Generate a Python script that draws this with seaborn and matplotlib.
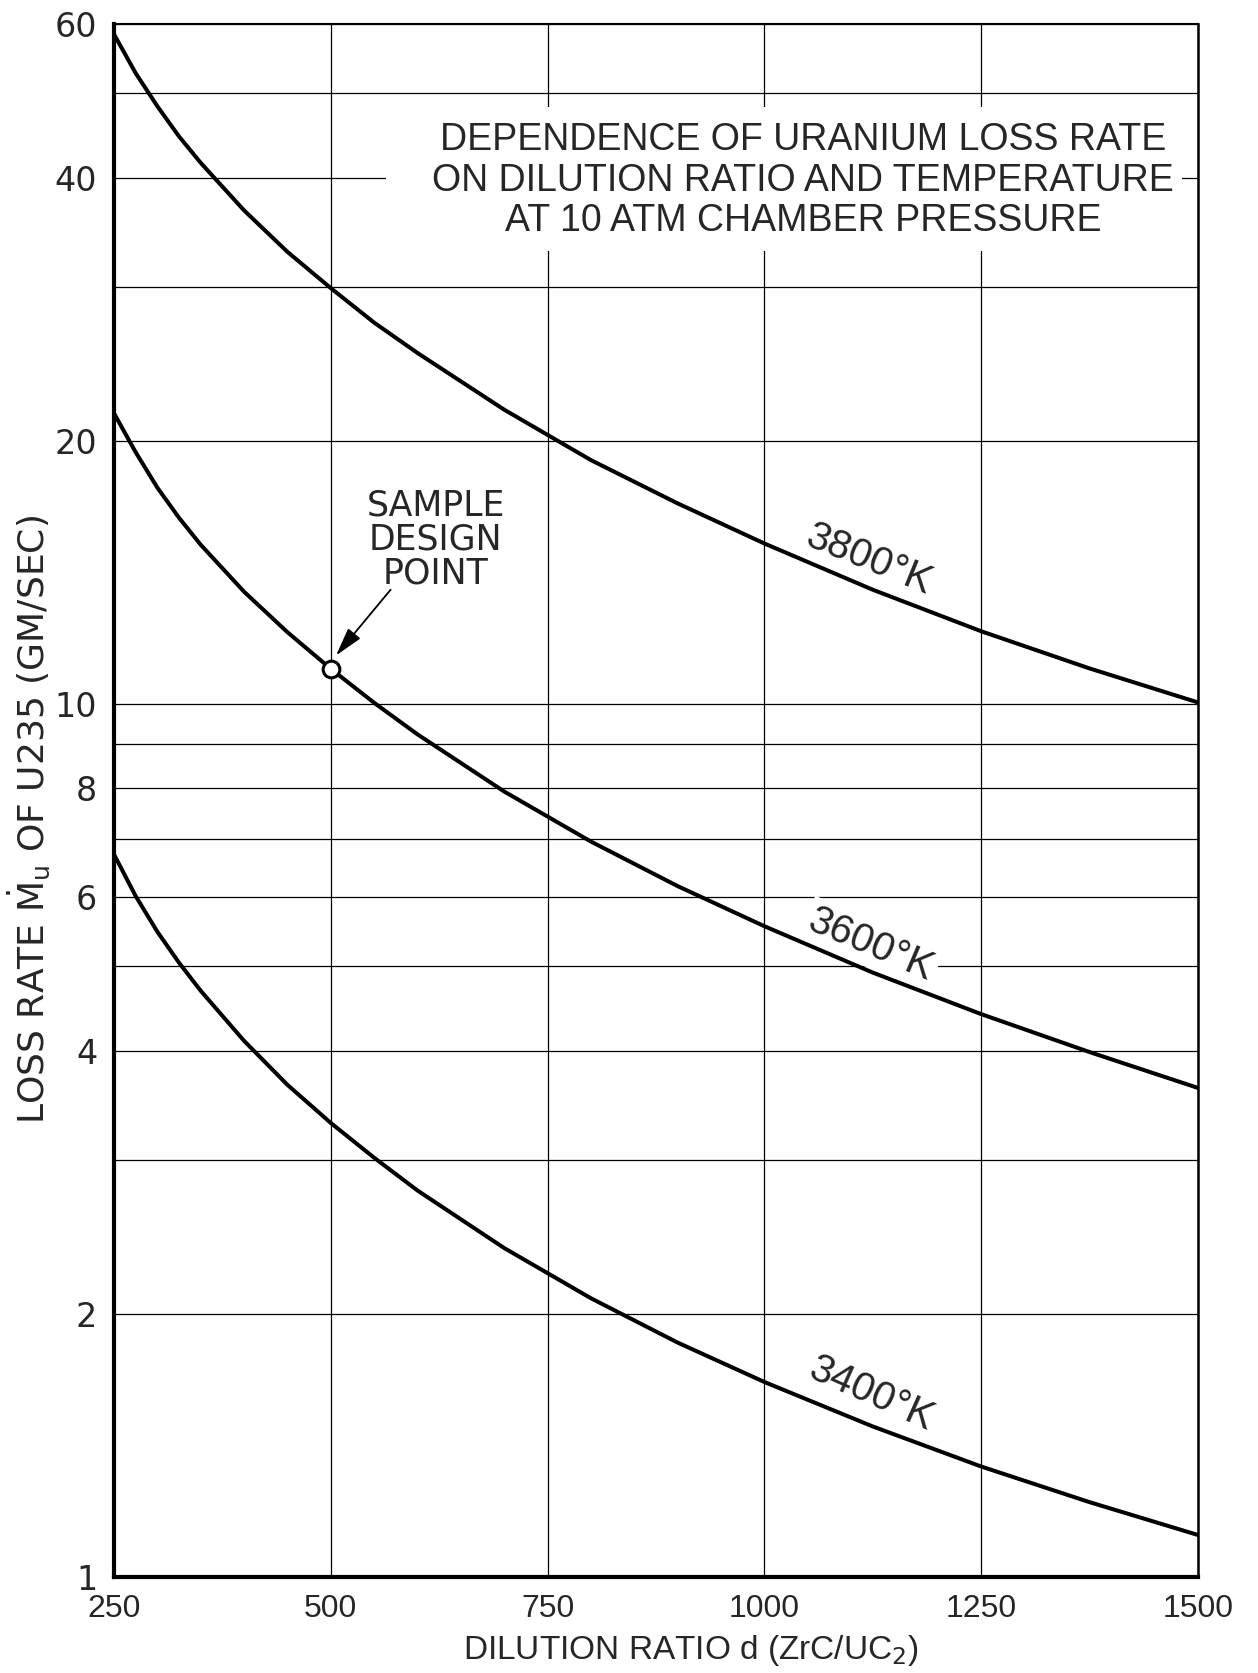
import numpy as np
import pandas as pd
import matplotlib
matplotlib.use('Agg')
import matplotlib.pyplot as plt
import matplotlib.patches as mpatches
import seaborn as sns
from matplotlib.ticker import FixedLocator, NullFormatter, FixedFormatter

# ---- data ----
dilution = [250, 275, 300, 325, 350, 400, 450, 500, 550, 600, 700, 800, 900, 1000, 1125, 1250, 1375, 1500]
rate_3800 = [58.4, 52.7, 48.3, 44.6, 41.6, 36.7, 32.9, 29.9, 27.3, 25.2, 21.7, 19.0, 16.95, 15.25, 13.5, 12.1, 10.97, 10.03]
rate_3600 = [21.5, 19.4, 17.67, 16.32, 15.2, 13.43, 12.07, 10.96, 10.02, 9.22, 7.93, 6.95, 6.18, 5.56, 4.92, 4.41, 3.99, 3.63]
rate_3400 = [6.72, 6.02, 5.48, 5.05, 4.69, 4.11, 3.66, 3.31, 3.02, 2.77, 2.38, 2.085, 1.855, 1.672, 1.487, 1.338, 1.218, 1.117]
temps = ['3800°K', '3600°K', '3400°K']
label_x = [1121, 1123, 1123]
label_y = [14.6, 5.3, 1.62]
label_rot = [-22, -23, -24]
design_x = [500]
design_y = [10.96]
arrow_tail = (569, 13.5)
arrow_tip = (506, 11.35)
yticks_major = [1, 2, 4, 6, 8, 10, 20, 40, 60]
yticks_minor = [3, 5, 7, 9, 30, 50]
xticks = [250, 500, 750, 1000, 1250, 1500]
title_lines = ["DEPENDENCE OF URANIUM LOSS RATE",
               "ON DILUTION RATIO AND TEMPERATURE",
               "AT 10 ATM CHAMBER PRESSURE"]

df = pd.DataFrame({
    'd': dilution * 3,
    'rate': rate_3800 + rate_3600 + rate_3400,
    'temp': [temps[0]] * len(dilution) + [temps[1]] * len(dilution) + [temps[2]] * len(dilution),
})

sns.set_style('white')
plt.rcParams['font.family'] = ['Liberation Sans', 'DejaVu Sans']
plt.rcParams['mathtext.fontset'] = 'dejavusans'

fig = plt.figure(figsize=(12.58, 16.73), dpi=100)
ax = fig.add_axes([0.0906, 0.0574, 0.8617, 0.9283])

sns.lineplot(data=df, x='d', y='rate', hue='temp', palette=['black'] * 3,
             linewidth=2.9, legend=False, ax=ax, zorder=4, sort=True,
             estimator=None)

ax.set_yscale('log')
ax.set_xlim(250, 1500)
ax.set_ylim(1, 60)

ax.xaxis.set_major_locator(FixedLocator(xticks))
ax.xaxis.set_major_formatter(FixedFormatter([str(v) for v in xticks]))
ax.yaxis.set_major_locator(FixedLocator(yticks_major))
ax.yaxis.set_major_formatter(FixedFormatter([str(v) for v in yticks_major]))
ax.yaxis.set_minor_locator(FixedLocator(yticks_minor))
ax.yaxis.set_minor_formatter(NullFormatter())

ax.set_axisbelow(True)
ax.grid(True, which='both', axis='y', color='black', linewidth=0.9)
ax.grid(True, which='major', axis='x', color='black', linewidth=0.9)
ax.tick_params(which='both', length=0)
ax.tick_params(axis='x', pad=12, labelsize=23)
ax.tick_params(axis='y', pad=12, labelsize=24)
for lab in ax.get_yticklabels():
    lab.set_family('DejaVu Sans')

for side, lw in [('left', 3.0), ('bottom', 3.0), ('top', 1.5), ('right', 1.8)]:
    ax.spines[side].set_visible(True)
    ax.spines[side].set_linewidth(lw)
    ax.spines[side].set_color('black')

ax.set_xlabel(r'DILUTION RATIO d (ZrC/UC$_2$)', fontsize=24)
ax.xaxis.set_label_coords(0.532, -0.0475)
ax.xaxis.label.set_va('center')
ax.set_ylabel(r'LOSS RATE $\dot{\mathrm{M}}_{\mathrm{u}}$ OF U235 (GM/SEC)',
              fontsize=26, family='DejaVu Sans')
ax.yaxis.set_label_coords(-0.0784, 0.488)
ax.yaxis.label.set_va('center')

# white block behind the title, breaking the grid
ax.add_patch(mpatches.Rectangle((0.251, 0.8538), 0.985 - 0.251, 0.9466 - 0.8538,
                                transform=ax.transAxes, facecolor='white',
                                edgecolor='none', zorder=1))
ax.text(0.6356, 0.8990, "\n".join(title_lines), transform=ax.transAxes,
        ha='center', va='center', multialignment='center', fontsize=27,
        linespacing=1.16, zorder=3)

# curve labels
for t, x, y, r in zip(temps, label_x, label_y, label_rot):
    ax.text(x, y, t, ha='center', va='center', rotation=r, fontsize=29,
            rotation_mode='anchor', zorder=3,
            bbox=dict(boxstyle='square,pad=0.1', facecolor='white', edgecolor='none'))

# sample design point
ax.plot(design_x, design_y, marker='o', ms=12, mfc='white', mec='black',
        mew=2.2, linestyle='none', zorder=5)
ax.text(621, 15.4, "SAMPLE\nDESIGN\nPOINT", ha='center', va='center',
        fontsize=25, family='DejaVu Sans', linespacing=1.0, zorder=3)
ax.annotate('', xy=arrow_tip, xytext=arrow_tail,
            arrowprops=dict(arrowstyle='-|>,head_length=0.8,head_width=0.22',
                            color='black', lw=1.3, mutation_scale=22,
                            shrinkA=0, shrinkB=0), zorder=6)

fig.savefig('out.png', dpi=100)
